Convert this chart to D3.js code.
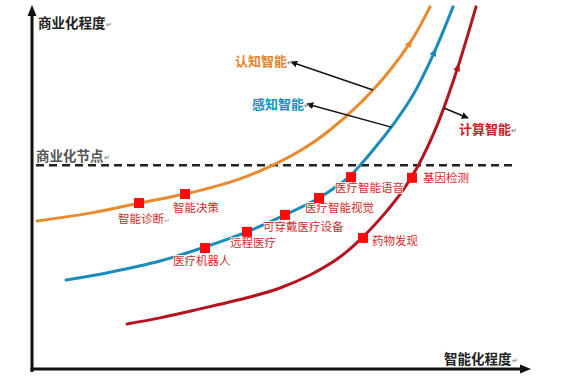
<!DOCTYPE html>
<html>
<head>
<meta charset="utf-8">
<script src="https://cdn.jsdelivr.net/npm/d3@7"></script>
<style>
  body { margin: 0; background: #fff; }
  text { font-family: "Noto Sans CJK SC", "Noto Sans", sans-serif; }
</style>
</head>
<body>
<div id="chart"></div>
<script>
// curves, in chart units (x: 0-100 智能化程度, y: 0-100 商业化程度)
var cognitive_x = [1, 11.6, 21.6, 30.6, 35.6, 41.6, 48.6, 53.6, 59.6, 68.2, 75.6, 79.6];
var cognitive_y = [41.1, 43.3, 46.1, 48.6, 50.3, 52.8, 56.9, 60.6, 66.4, 77.5, 90.6, 100.6];
var perceptual_x = [6.8, 15.6, 25.6, 34.6, 43, 50.6, 57.4, 60.8, 63.6, 66.2, 69.2, 72.6, 76.2, 80.2, 84.2];
var perceptual_y = [24.7, 26.9, 30, 33.9, 38.1, 42.8, 47.5, 50.6, 53.6, 57.5, 62.5, 68.6, 76.1, 87.2, 100.6];
var computing_x = [19, 25.6, 33.6, 43.6, 49.6, 55.6, 61.6, 66.2, 70.6, 74.2, 77.2, 81.2, 85, 88.8];
var computing_y = [12.5, 14.2, 16.7, 20, 22.5, 26.1, 31.1, 36.7, 43.3, 49.7, 56.4, 68.3, 83.1, 100.6];

var series_names = ["认知智能", "感知智能", "计算智能"];
var series_colors = ["#e98a2e", "#1a8cba", "#b3141e"];
var label_colors = ["#e3842a", "#1d8fc0", "#cc2129"];

// applications along the curves
var app_names = ["智能诊断", "智能决策", "医疗机器人", "远程医疗", "可穿戴医疗设备", "医疗智能视觉", "医疗智能语音", "基因检测", "药物发现"];
var app_x = [21.4, 30.6, 34.6, 43, 50.6, 57.4, 63.8, 76, 66.2];
var app_y = [46.1, 48.6, 33.6, 38.1, 42.8, 47.5, 53.3, 53.1, 36.4];

var node_y = 56.6; // 商业化节点
var node_label = "商业化节点";
var y_title = "商业化程度";
var x_title = "智能化程度";

var width = 583, height = 377;
var x = d3.scaleLinear().domain([0, 100]).range([32, 532]);
var y = d3.scaleLinear().domain([0, 100]).range([369, 9]);

var svg = d3.select("#chart").append("svg")
  .attr("width", width).attr("height", height);

var defs = svg.append("defs");
defs.append("marker").attr("id", "tip")
  .attr("viewBox", "0 0 10 10").attr("refX", 9).attr("refY", 5)
  .attr("markerWidth", 7).attr("markerHeight", 7)
  .attr("orient", "auto-start-reverse").attr("markerUnits", "userSpaceOnUse")
  .append("path").attr("d", "M0,0 L10,5 L0,10 Z").attr("fill", "#111");

function pilcrow(sel) {
  sel.append("tspan").text("↵").attr("font-size", 7).attr("fill", "#999").attr("dy", 2);
}

// axes
var axis_g = svg.append("g");
axis_g.append("line")
  .attr("x1", x(0)).attr("y1", y(0) + 3).attr("x2", x(0)).attr("y2", 14)
  .attr("stroke", "#111").attr("stroke-width", 3);
axis_g.append("path").attr("d", "M" + x(0) + ",5 L" + (x(0) - 4.5) + ",16 L" + (x(0) + 4.5) + ",16 Z").attr("fill", "#111");
axis_g.append("line")
  .attr("x1", x(0) - 1.5).attr("y1", y(0)).attr("x2", 522).attr("y2", y(0))
  .attr("stroke", "#111").attr("stroke-width", 3);
axis_g.append("path").attr("d", "M531," + y(0) + " L520," + (y(0) - 4.5) + " L520," + (y(0) + 4.5) + " Z").attr("fill", "#111");

var t = svg.append("text").attr("x", 38).attr("y", 22).attr("dominant-baseline", "central")
  .attr("font-size", 13.5).attr("font-weight", "bold").attr("fill", "#222").text(y_title);
pilcrow(t);
t = svg.append("text").attr("x", 444).attr("y", 358).attr("dominant-baseline", "central")
  .attr("font-size", 13.5).attr("font-weight", "bold").attr("fill", "#222").text(x_title);
pilcrow(t);

// commercialisation threshold
svg.append("line")
  .attr("x1", 36).attr("x2", 512).attr("y1", y(node_y)).attr("y2", y(node_y))
  .attr("stroke", "#222").attr("stroke-width", 2.5).attr("stroke-dasharray", "8,5");
t = svg.append("text").attr("x", 36).attr("y", y(node_y) - 10).attr("dominant-baseline", "central")
  .attr("font-size", 13.5).attr("font-weight", "bold").attr("fill", "#555").text(node_label);
pilcrow(t);

// curves
var curves = [
  d3.zip(cognitive_x, cognitive_y),
  d3.zip(perceptual_x, perceptual_y),
  d3.zip(computing_x, computing_y)
];
var line = d3.line()
  .x(function(d) { return x(d[0]); })
  .y(function(d) { return y(d[1]); })
  .curve(d3.curveCatmullRom.alpha(0.5));

var paths = svg.append("g").selectAll("path").data(curves).enter().append("path")
  .attr("d", line)
  .attr("fill", "none")
  .attr("stroke", function(d, i) { return series_colors[i]; })
  .attr("stroke-width", 3)
  .attr("stroke-linecap", "round");

// point on a path at a given y (chart units), searched along its length
function pointAtY(node, yv) {
  var target = y(yv), len = node.getTotalLength(), lo = 0, hi = len;
  for (var k = 0; k < 40; k++) {
    var mid = (lo + hi) / 2;
    if (node.getPointAtLength(mid).y > target) lo = mid; else hi = mid;
  }
  var p = node.getPointAtLength(lo), q = node.getPointAtLength(Math.min(len, lo + 2));
  return { x: p.x, y: p.y, a: Math.atan2(q.y - p.y, q.x - p.x) * 180 / Math.PI };
}

// small direction arrows on the curves
var flow_y = [90.6, 88.1, 83.9];
paths.each(function(d, i) {
  var p = pointAtY(this, flow_y[i]);
  svg.append("path").attr("d", "M4,0 L-4,-3.5 L-4,3.5 Z")
    .attr("fill", series_colors[i])
    .attr("transform", "translate(" + p.x + "," + p.y + ") rotate(" + p.a + ")");
});

// series callouts: anchor on curve (chart y), label position in px
var callout_y = [77.5, 67.2, 72.5];
var callout_tip = [[291, 62], [307, 104], [468, 118]];
var callout_label = [[235, 60], [252, 103], [459, 128]];
paths.each(function(d, i) {
  var p = pointAtY(this, callout_y[i]);
  svg.append("line")
    .attr("x1", p.x).attr("y1", p.y).attr("x2", callout_tip[i][0]).attr("y2", callout_tip[i][1])
    .attr("stroke", "#111").attr("stroke-width", 1.4).attr("marker-end", "url(#tip)");
  var s = svg.append("text").attr("x", callout_label[i][0]).attr("y", callout_label[i][1])
    .attr("dominant-baseline", "central").attr("font-size", 13).attr("font-weight", "bold")
    .attr("fill", label_colors[i]).text(series_names[i]);
  pilcrow(s);
});

// application markers
var label_dx = [-21, -12, -32, -17, -22, -14, -16, 11, 9];
var label_dy = [15, 13, 12, 10, 11, 9, 10, -1, 2];
var apps = svg.append("g").selectAll("g").data(app_names).enter().append("g");
apps.append("text")
  .attr("x", function(d, i) { return x(app_x[i]) + label_dx[i]; })
  .attr("y", function(d, i) { return y(app_y[i]) + label_dy[i]; })
  .attr("dominant-baseline", "central")
  .attr("font-size", 11.5).attr("fill", "#d42a2a")
  .style("paint-order", "stroke").attr("stroke", "#fff").attr("stroke-width", 1.5)
  .text(function(d) { return d; })
  .each(function(d, i) { if (i === 0) pilcrow(d3.select(this)); });
apps.append("rect")
  .attr("x", function(d, i) { return x(app_x[i]) - 5; })
  .attr("y", function(d, i) { return y(app_y[i]) - 5; })
  .attr("width", 10).attr("height", 10)
  .attr("fill", "#ff0a0a");
</script>
</body>
</html>
